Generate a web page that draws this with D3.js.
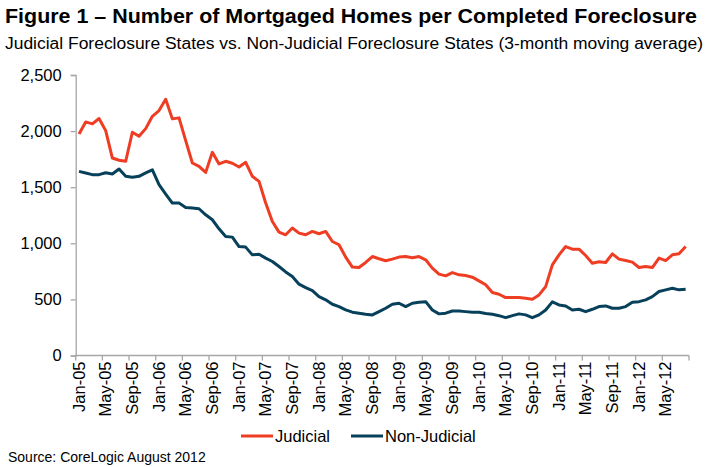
<!DOCTYPE html>
<html>
<head>
<meta charset="utf-8">
<script src="https://cdn.jsdelivr.net/npm/d3@7"></script>
<style>
  html, body { margin: 0; padding: 0; background: #fff; }
  svg { display: block; font-family: "Liberation Sans", Arial, sans-serif; }
</style>
</head>
<body>
<svg id="chart" width="710" height="467"></svg>
<script>
const months = [
  "Jan-05","Feb-05","Mar-05","Apr-05","May-05","Jun-05","Jul-05","Aug-05","Sep-05","Oct-05","Nov-05","Dec-05",
  "Jan-06","Feb-06","Mar-06","Apr-06","May-06","Jun-06","Jul-06","Aug-06","Sep-06","Oct-06","Nov-06","Dec-06",
  "Jan-07","Feb-07","Mar-07","Apr-07","May-07","Jun-07","Jul-07","Aug-07","Sep-07","Oct-07","Nov-07","Dec-07",
  "Jan-08","Feb-08","Mar-08","Apr-08","May-08","Jun-08","Jul-08","Aug-08","Sep-08","Oct-08","Nov-08","Dec-08",
  "Jan-09","Feb-09","Mar-09","Apr-09","May-09","Jun-09","Jul-09","Aug-09","Sep-09","Oct-09","Nov-09","Dec-09",
  "Jan-10","Feb-10","Mar-10","Apr-10","May-10","Jun-10","Jul-10","Aug-10","Sep-10","Oct-10","Nov-10","Dec-10",
  "Jan-11","Feb-11","Mar-11","Apr-11","May-11","Jun-11","Jul-11","Aug-11","Sep-11","Oct-11","Nov-11","Dec-11",
  "Jan-12","Feb-12","Mar-12","Apr-12","May-12","Jun-12","Jul-12","Aug-12"
];

const judicial = [
  1975, 2082, 2064, 2112, 2004, 1760, 1740, 1731, 1990, 1954,
  2022, 2132, 2183, 2284, 2109, 2118, 1915, 1716, 1686, 1632,
  1811, 1707, 1731, 1713, 1680, 1722, 1597, 1552, 1359, 1195,
  1100, 1076, 1136, 1091, 1076, 1106, 1085, 1106, 1016, 987,
  877, 788, 784, 829, 882, 862, 844, 859, 877, 882,
  871, 882, 853, 779, 725, 710, 739, 719, 713, 698,
  665, 630, 561, 546, 516, 516, 516, 511, 502, 540,
  614, 808, 897, 971, 948, 948, 891, 823, 835, 829,
  906, 859, 846, 832, 784, 793, 784, 868, 846, 897,
  906, 971
];

const nonJudicial = [
  1641, 1627, 1612, 1612, 1629, 1618, 1662, 1597, 1588, 1597,
  1627, 1654, 1522, 1439, 1359, 1359, 1320, 1314, 1308, 1254,
  1210, 1129, 1061, 1055, 971, 966, 897, 903, 868, 838,
  793, 745, 704, 636, 605, 579, 525, 496, 457, 436,
  406, 386, 377, 368, 362, 391, 421, 457, 466, 436,
  466, 475, 480, 406, 371, 377, 397, 397, 391, 386,
  386, 375, 368, 355, 337, 355, 371, 362, 337, 362,
  406, 478, 451, 442, 406, 412, 391, 412, 436, 442,
  421, 421, 436, 475, 480, 496, 525, 570, 585, 600,
  585, 591
];

const yTicks = [0, 500, 1000, 1500, 2000, 2500];
const tickEvery = 4;

const titleText = "Figure 1 \u2013 Number of Mortgaged Homes per Completed Foreclosure";
const subtitleText = "Judicial Foreclosure States vs. Non-Judicial Foreclosure States (3-month moving average)";
const sourceText = "Source: CoreLogic August 2012";

const series = [
  { name: "Judicial", values: judicial, color: "#ee3d23" },
  { name: "Non-Judicial", values: nonJudicial, color: "#07405a" }
];

const svg = d3.select("#chart");
const axisColor = "#a6a6a6";
const FONT = "Liberation Sans, Arial, sans-serif";

const x = d3.scaleBand().domain(months).range([75.7, 689]).paddingInner(0).paddingOuter(0);
const y = d3.scaleLinear().domain([0, 2500]).range([355.5, 75]);

// Title
svg.append("text").attr("x", 5).attr("y", 23)
  .attr("font-size", 20).attr("font-weight", "bold").attr("fill", "#000")
  .attr("textLength", 692).attr("lengthAdjust", "spacingAndGlyphs")
  .text(titleText);
svg.append("text").attr("x", 5).attr("y", 49)
  .attr("font-size", 16).attr("fill", "#000")
  .attr("textLength", 698).attr("lengthAdjust", "spacingAndGlyphs")
  .text(subtitleText);

// Y axis
const yAxis = d3.axisLeft(y).tickValues(yTicks).tickFormat(d3.format(",")).tickSize(5).tickPadding(9);
const gy = svg.append("g").attr("transform", `translate(${x.range()[0]},0)`).call(yAxis);
gy.select(".domain").attr("stroke", axisColor).attr("stroke-width", 1.3);
gy.selectAll(".tick line").attr("stroke", axisColor).attr("stroke-width", 1.3);
gy.selectAll(".tick text").attr("font-size", 16.5).attr("fill", "#000")
  .attr("font-family", FONT);

// X axis: ticks at category boundaries every 4 months, labels at category centers
const labelMonths = months.filter((d, i) => i % tickEvery === 0);
const xAxis = d3.axisBottom(x).tickValues(labelMonths).tickSize(0).tickPadding(0);
const gx = svg.append("g").attr("transform", `translate(0,${y(0)})`).call(xAxis);
gx.select(".domain").remove();
gx.selectAll(".tick text")
  .attr("font-size", 16.5).attr("fill", "#000")
  .attr("font-family", FONT)
  .attr("transform", "rotate(-90)")
  .attr("text-anchor", "end")
  .attr("dy", "0.35em")
  .attr("x", -6).attr("y", 0);

svg.append("line")
  .attr("x1", x.range()[0]).attr("x2", x.range()[1])
  .attr("y1", y(0)).attr("y2", y(0))
  .attr("stroke", axisColor).attr("stroke-width", 1.3);

const boundaryIdx = d3.range(0, months.length + 1, tickEvery);
svg.append("g").selectAll("line").data(boundaryIdx).join("line")
  .attr("x1", i => i < months.length ? x(months[i]) : x.range()[1])
  .attr("x2", i => i < months.length ? x(months[i]) : x.range()[1])
  .attr("y1", y(0)).attr("y2", y(0) + 5)
  .attr("stroke", axisColor).attr("stroke-width", 1.3);

// Lines
const line = d3.line()
  .x((d, i) => x(months[i]) + x.bandwidth() / 2)
  .y(d => y(d));

svg.append("g").selectAll("path").data(series).join("path")
  .attr("d", s => line(s.values))
  .attr("fill", "none")
  .attr("stroke", s => s.color)
  .attr("stroke-width", 3)
  .attr("stroke-linejoin", "round");

// Legend
const legendItems = [
  { s: series[0], x: 241 },
  { s: series[1], x: 351 }
];
const lg = svg.append("g");
legendItems.forEach(it => {
  lg.append("line").attr("x1", it.x).attr("x2", it.x + 32)
    .attr("y1", 436).attr("y2", 436)
    .attr("stroke", it.s.color).attr("stroke-width", 3);
  lg.append("text").attr("x", it.x + 34).attr("y", 442)
    .attr("font-size", 16.5).attr("fill", "#000").text(it.s.name);
});

// Source
svg.append("text").attr("x", 8).attr("y", 462)
  .attr("font-size", 14).attr("fill", "#000").text(sourceText);
</script>
</body>
</html>
